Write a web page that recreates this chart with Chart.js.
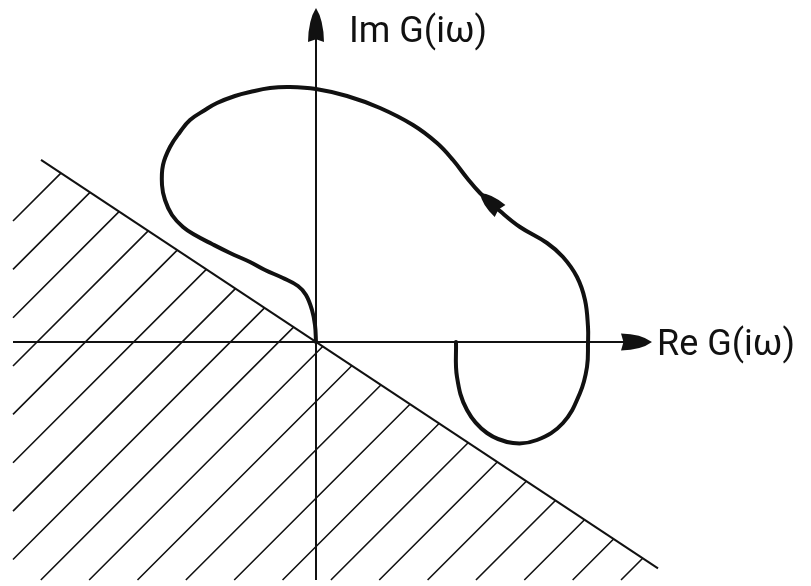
<!DOCTYPE html>
<html>
<head>
<meta charset="utf-8">
<script src="https://cdn.jsdelivr.net/npm/chart.js@4/dist/chart.umd.min.js"></script>
<style>
  html, body { margin: 0; padding: 0; background: #fff; }
  #wrap { width: 811px; height: 586px; position: relative; }
</style>
</head>
<body>
<div id="wrap"><canvas id="nyquist"></canvas></div>
<script>
// Nyquist locus G(iw), starting at the origin and ending on the real axis
const reValues = [0.00, -0.01, -0.04, -0.10, -0.18, -0.33, -0.51, -0.66, -0.86, -1.04,
  -1.21, -1.33, -1.44, -1.51, -1.54, -1.53, -1.46, -1.36, -1.26, -1.11,
  -0.99, -0.81, -0.66, -0.46, -0.26, 0.00, 0.31, 0.64, 0.97, 1.21,
  1.37, 1.51, 1.64, 1.84, 2.04, 2.31, 2.47, 2.61, 2.69, 2.72,
  2.72, 2.71, 2.64, 2.47, 2.21, 1.97, 1.71, 1.51, 1.41, 1.40];
const imValues = [0.00, 0.17, 0.32, 0.47, 0.56, 0.64, 0.72, 0.80, 0.89, 0.98,
  1.07, 1.15, 1.27, 1.42, 1.57, 1.77, 1.95, 2.10, 2.22, 2.32,
  2.39, 2.46, 2.50, 2.54, 2.55, 2.53, 2.46, 2.34, 2.17, 1.99,
  1.82, 1.64, 1.49, 1.31, 1.15, 0.99, 0.85, 0.65, 0.42, 0.15,
  -0.01, -0.25, -0.51, -0.81, -0.98, -1.01, -0.91, -0.68, -0.35, 0.00];

// direction arrow sits at this point of the locus
const arrowIndex = 32;

// axes extents and labels
const reAxis = [-3.03, 3.36];
const imAxis = [-2.38, 3.34];
const reLabel = 'Re G(i\u03c9)';
const imLabel = 'Im G(i\u03c9)';

// forbidden region: half plane below a line through the origin
const boundarySlope = -0.662;
const boundaryRe = [-2.75, 3.42];
const hatchFirst = -4.24;
const hatchStep = 0.4835;
const hatchCount = 21;

const boundary = boundaryRe.map(x => ({ x: x, y: boundarySlope * x }));

// hatch lines at 45 degrees, from the boundary down to the left / bottom edge
const hatch = [];
for (let k = 0; k < hatchCount; k++) {
  const c = hatchFirst + k * hatchStep;
  const x1 = c / (1 - boundarySlope);
  hatch.push({ x: x1, y: boundarySlope * x1 });
  const yLeft = reAxis[0] - c;
  if (yLeft >= imAxis[0]) hatch.push({ x: reAxis[0], y: yLeft });
  else hatch.push({ x: c + imAxis[0], y: imAxis[0] });
  hatch.push({ x: null, y: null });
}

const locus = reValues.map((x, i) => ({ x: x, y: imValues[i] }));

const ink = '#111';

function arrowHead(ctx, tip, from, len, half) {
  const a = Math.atan2(tip.y - from.y, tip.x - from.x);
  ctx.save();
  ctx.translate(tip.x, tip.y);
  ctx.rotate(a);
  ctx.beginPath();
  ctx.moveTo(0, 0);
  ctx.quadraticCurveTo(-len * 0.35, -half * 0.95, -len, -half);
  ctx.lineTo(-len * 0.92, 0);
  ctx.lineTo(-len, half);
  ctx.quadraticCurveTo(-len * 0.35, half * 0.95, 0, 0);
  ctx.closePath();
  ctx.fillStyle = ink;
  ctx.fill();
  ctx.restore();
}

const axesPlugin = {
  id: 'complexAxes',
  afterDatasetsDraw(chart) {
    const { ctx, scales: { x, y } } = chart;
    const x0 = x.getPixelForValue(0);
    const y0 = y.getPixelForValue(0);
    const reL = x.getPixelForValue(reAxis[0]);
    const reR = x.getPixelForValue(reAxis[1]);
    const imB = y.getPixelForValue(imAxis[0]);
    const imT = y.getPixelForValue(imAxis[1]);

    ctx.save();
    ctx.strokeStyle = ink;
    ctx.lineWidth = 2;
    ctx.beginPath();
    ctx.moveTo(reL, y0);
    ctx.lineTo(reR - 20, y0);
    ctx.moveTo(x0, imB);
    ctx.lineTo(x0, imT + 20);
    ctx.stroke();

    arrowHead(ctx, { x: reR, y: y0 }, { x: reL, y: y0 }, 31, 8.5);
    arrowHead(ctx, { x: x0, y: imT }, { x: x0, y: imB }, 34, 8);

    // direction of increasing frequency along the locus
    const p = locus[arrowIndex], q = locus[arrowIndex + 1];
    arrowHead(ctx,
      { x: x.getPixelForValue(p.x), y: y.getPixelForValue(p.y) },
      { x: x.getPixelForValue(q.x), y: y.getPixelForValue(q.y) }, 27, 8);

    ctx.fillStyle = ink;
    ctx.font = '36px Roboto';
    ctx.textAlign = 'left';
    ctx.textBaseline = 'alphabetic';
    ctx.fillText(imLabel, x0 + 33, imT + 34);
    ctx.fillText(reLabel, reR + 5, y0 + 13);
    ctx.restore();
  }
};

new Chart(document.getElementById('nyquist'), {
  type: 'scatter',
  data: {
    datasets: [
      {
        data: hatch,
        showLine: true,
        spanGaps: false,
        borderColor: ink,
        borderWidth: 1.6,
        pointRadius: 0,
        tension: 0
      },
      {
        data: boundary,
        showLine: true,
        borderColor: ink,
        borderWidth: 2,
        pointRadius: 0,
        tension: 0
      },
      {
        data: locus,
        showLine: true,
        borderColor: ink,
        borderWidth: 4,
        pointRadius: 0,
        tension: 0.4,
        borderCapStyle: 'round',
        borderJoinStyle: 'round'
      }
    ]
  },
  options: {
    responsive: true,
    maintainAspectRatio: false,
    animation: false,
    layout: { padding: 0 },
    scales: {
      x: { type: 'linear', min: -3.16, max: 4.95, display: false },
      y: { type: 'linear', min: -2.44, max: 3.42, display: false }
    },
    plugins: {
      legend: { display: false },
      tooltip: { enabled: false }
    }
  },
  plugins: [axesPlugin]
});
</script>
</body>
</html>
